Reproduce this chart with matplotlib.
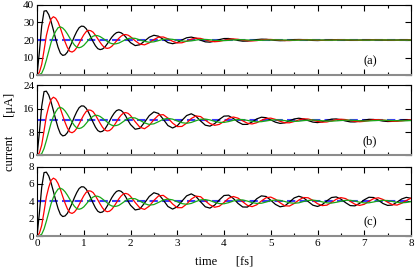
import numpy as np
import matplotlib
matplotlib.use("Agg")
import matplotlib.pyplot as plt
from matplotlib.ticker import MultipleLocator

plt.rcParams.update({
    "font.family": "Liberation Serif",
    "font.size": 8,
})

# time grid [fs], one sample every 0.1 fs, plus half steps over the first 2 fs
t = np.linspace(0, 8, 81)
t_half = np.linspace(0.05, 1.95, 20)

# panel (a)
black_a = [0, 28.0, 36.75, 30.65, 20.5, 12.45, 11.55, 15.89, 22.06, 27.01,
           27.76, 24.37, 19.02, 15.06, 14.85, 17.72, 21.62, 24.18, 24.1, 21.66,
           18.48, 16.8, 17.29, 19.38, 21.57, 22.7, 22.15, 20.38, 18.53, 17.89,
           18.56, 20.02, 21.27, 21.66, 21.02, 19.88, 18.94, 18.78, 19.36, 20.22,
           20.83, 20.85, 20.35, 19.74, 19.34, 19.4, 19.77, 20.23, 20.47, 20.39,
           20.08, 19.78, 19.62, 19.68, 19.94, 20.23, 20.29, 20.2, 19.99, 19.78,
           19.7, 19.84, 20.02, 20.17, 20.2, 20.1, 19.94, 19.83, 19.81, 19.92,
           20.06, 20.14, 20.13, 20.04, 19.92, 19.86, 19.87, 19.97, 20.08, 20.14,
           20.1]
black_a_half = [13.0, 36.5, 34.55, 25.7, 15.85, 11.2, 13.09, 18.82, 24.85, 27.93,
                26.51, 21.72, 16.68, 14.51, 15.93, 19.65, 23.13, 24.49, 23.13, 19.93]
red_a = [0, 6.0, 22.5, 32.0, 32.5, 26.8, 18.9, 13.57, 13.92, 18.08,
         22.96, 25.52, 24.45, 20.69, 16.85, 15.2, 16.42, 19.45, 22.2, 23.11,
         21.88, 19.55, 17.65, 17.23, 18.38, 20.25, 21.64, 21.73, 20.69, 19.27,
         18.34, 18.41, 19.32, 20.49, 21.09, 20.91, 20.07, 19.36, 19.0, 19.23,
         19.83, 20.42, 20.61, 20.39, 19.94, 19.58, 19.47, 19.67, 20.02, 20.29,
         20.31, 20.14, 19.89, 19.69, 19.67, 19.84, 20.07, 20.22, 20.2, 20.05,
         19.86, 19.8, 19.82, 19.95, 20.09, 20.17, 20.11, 20.0, 19.88, 19.83,
         19.88, 20.0, 20.09, 20.12, 20.06, 19.97, 19.89, 19.87, 19.93, 20.03,
         20.1]
red_a_half = [1.5, 14.0, 28.0, 33.3, 30.25, 22.75, 15.68, 13.11, 15.64, 20.62,
              24.74, 25.29, 22.71, 18.65, 15.6, 15.49, 17.85, 20.99, 22.99, 22.73]
green_a = [0, 1.0, 8.5, 18.5, 25.0, 27.5, 25.45, 21.19, 17.16, 15.58,
           16.95, 19.95, 22.18, 22.45, 21.08, 19.28, 17.92, 17.89, 18.92, 20.31,
           21.09, 20.93, 20.06, 19.2, 18.72, 18.96, 19.66, 20.36, 20.61, 20.38,
           19.87, 19.42, 19.28, 19.51, 19.94, 20.28, 20.31, 20.12, 19.83, 19.64,
           19.64, 19.81, 20.03, 20.17, 20.15, 20.02, 19.87, 19.8, 19.83, 19.94,
           20.05, 20.09, 20.06, 19.98, 19.9, 19.86, 19.91, 19.99, 20.05, 20.07,
           20.03, 19.97, 19.93, 19.92, 19.95, 20.0, 20.04, 20.04, 20.01, 19.96,
           19.93, 19.95, 19.98, 20.01, 20.03, 20.02, 19.99, 19.96, 19.95, 19.96,
           19.99]
green_a_half = [0.25, 4.0, 13.5, 22.25, 27.0, 26.85, 23.48, 19.07, 15.88, 16.01,
                18.42, 21.22, 22.62, 21.94, 20.2, 18.43, 17.74, 18.25, 19.61, 20.81]

# panel (b)
black_b = [0, 16.8, 22.05, 18.39, 12.3, 7.47, 6.93, 9.51, 13.26, 16.38,
           16.95, 14.85, 11.34, 8.55, 8.28, 10.29, 13.26, 15.39, 15.42, 13.44,
           10.62, 9.0, 9.33, 11.37, 13.65, 14.94, 14.41, 12.44, 10.27, 9.43,
           10.2, 12.03, 13.69, 14.3, 13.45, 11.82, 10.39, 10.06, 10.94, 12.37,
           13.5, 13.58, 12.69, 11.48, 10.65, 10.67, 11.48, 12.54, 13.12, 12.96,
           12.2, 11.42, 11.0, 11.2, 11.86, 12.52, 12.78, 12.53, 11.96, 11.45,
           11.28, 11.54, 12.06, 12.46, 12.53, 12.26, 11.84, 11.52, 11.51, 11.78,
           12.15, 12.39, 12.35, 12.1, 11.8, 11.65, 11.7, 11.93, 12.16, 12.28,
           12.2]
black_b_half = [7.8, 21.9, 20.73, 15.42, 9.51, 6.72, 7.83, 11.28, 15.0, 17.01,
                16.2, 13.14, 9.72, 8.1, 9.0, 11.73, 14.49, 15.69, 14.67, 11.94]
red_b = [0, 3.6, 13.5, 19.2, 19.5, 16.08, 11.34, 8.1, 8.28, 10.8,
         13.89, 15.6, 15.0, 12.48, 9.72, 8.4, 9.21, 11.55, 13.83, 14.7,
         13.71, 11.58, 9.69, 9.18, 10.29, 12.27, 13.84, 14.0, 12.81, 11.12,
         9.91, 9.96, 11.1, 12.68, 13.56, 13.34, 12.1, 10.99, 10.34, 10.67,
         11.68, 12.78, 13.19, 12.78, 11.88, 11.07, 10.81, 11.24, 12.05, 12.71,
         12.81, 12.37, 11.72, 11.22, 11.21, 11.64, 12.19, 12.57, 12.5, 12.12,
         11.66, 11.42, 11.5, 11.86, 12.24, 12.43, 12.31, 11.99, 11.68, 11.57,
         11.7, 12.0, 12.24, 12.31, 12.16, 11.92, 11.74, 11.71, 11.86, 12.06,
         12.21]
red_b_half = [0.9, 8.4, 16.8, 19.98, 18.15, 13.65, 9.39, 7.8, 9.3, 12.39,
              15.06, 15.51, 13.86, 11.04, 8.76, 8.55, 10.29, 12.81, 14.55, 14.43]
green_b = [0, 0.6, 5.1, 11.1, 15.0, 16.5, 15.27, 12.72, 10.26, 9.24,
           10.05, 11.97, 13.47, 13.71, 12.78, 11.46, 10.38, 10.29, 11.1, 12.27,
           12.99, 12.87, 12.06, 11.19, 10.65, 10.86, 11.61, 12.41, 12.72, 12.46,
           11.83, 11.25, 11.04, 11.33, 11.92, 12.41, 12.48, 12.2, 11.71, 11.37,
           11.34, 11.64, 12.06, 12.34, 12.31, 12.04, 11.71, 11.54, 11.59, 11.84,
           12.12, 12.24, 12.16, 11.96, 11.76, 11.68, 11.76, 11.96, 12.11, 12.16,
           12.07, 11.92, 11.8, 11.77, 11.87, 12.0, 12.11, 12.11, 12.02, 11.9,
           11.83, 11.85, 11.94, 12.03, 12.08, 12.06, 11.99, 11.91, 11.89, 11.91,
           11.98]
green_b_half = [0.15, 2.4, 8.1, 13.35, 16.2, 16.11, 14.1, 11.43, 9.45, 9.48,
                10.98, 12.81, 13.8, 13.38, 12.15, 10.8, 10.2, 10.56, 11.67, 12.72]

# panel (c)
black_c = [0, 5.6, 7.35, 6.13, 4.1, 2.49, 2.31, 3.17, 4.42, 5.46,
           5.65, 4.95, 3.78, 2.85, 2.76, 3.43, 4.42, 5.13, 5.14, 4.48,
           3.54, 3.0, 3.11, 3.79, 4.55, 4.98, 4.81, 4.15, 3.4, 3.1,
           3.36, 4.01, 4.62, 4.85, 4.55, 3.93, 3.36, 3.21, 3.56, 4.16,
           4.66, 4.71, 4.32, 3.75, 3.34, 3.33, 3.73, 4.29, 4.62, 4.55,
           4.12, 3.64, 3.36, 3.47, 3.9, 4.38, 4.58, 4.4, 3.97, 3.55,
           3.4, 3.61, 4.05, 4.43, 4.5, 4.25, 3.84, 3.5, 3.47, 3.76,
           4.17, 4.46, 4.43, 4.13, 3.74, 3.52, 3.57, 3.9, 4.26, 4.45,
           4.34]
black_c_half = [2.6, 7.3, 6.91, 5.14, 3.17, 2.24, 2.61, 3.76, 5.0, 5.67,
                5.4, 4.38, 3.24, 2.7, 3.0, 3.91, 4.83, 5.23, 4.89, 3.98]
red_c = [0, 1.2, 4.5, 6.4, 6.5, 5.36, 3.78, 2.7, 2.76, 3.6,
         4.63, 5.2, 5.0, 4.16, 3.24, 2.8, 3.07, 3.85, 4.61, 4.9,
         4.57, 3.86, 3.23, 3.06, 3.43, 4.09, 4.62, 4.68, 4.28, 3.69,
         3.26, 3.26, 3.67, 4.25, 4.59, 4.52, 4.04, 3.59, 3.31, 3.43,
         3.86, 4.35, 4.55, 4.37, 3.94, 3.53, 3.38, 3.59, 4.03, 4.41,
         4.48, 4.23, 3.82, 3.48, 3.45, 3.74, 4.14, 4.43, 4.4, 4.1,
         3.72, 3.5, 3.55, 3.87, 4.23, 4.42, 4.31, 3.99, 3.66, 3.52,
         3.65, 4.0, 4.3, 4.4, 4.21, 3.89, 3.62, 3.56, 3.77, 4.09,
         4.35]
red_c_half = [0.3, 2.8, 5.6, 6.66, 6.05, 4.55, 3.13, 2.6, 3.1, 4.13,
              5.02, 5.17, 4.62, 3.68, 2.92, 2.85, 3.43, 4.27, 4.85, 4.81]
green_c = [0, 0.2, 1.7, 3.7, 5.0, 5.5, 5.09, 4.24, 3.42, 3.08,
           3.35, 3.99, 4.49, 4.57, 4.26, 3.82, 3.46, 3.43, 3.7, 4.09,
           4.33, 4.29, 4.02, 3.73, 3.55, 3.62, 3.87, 4.14, 4.25, 4.16,
           3.94, 3.73, 3.65, 3.75, 3.97, 4.16, 4.19, 4.08, 3.88, 3.73,
           3.71, 3.84, 4.03, 4.16, 4.15, 4.02, 3.85, 3.75, 3.77, 3.91,
           4.07, 4.15, 4.1, 3.97, 3.83, 3.77, 3.82, 3.97, 4.09, 4.13,
           4.06, 3.93, 3.82, 3.79, 3.88, 4.0, 4.11, 4.11, 4.02, 3.89,
           3.81, 3.82, 3.92, 4.04, 4.11, 4.08, 3.98, 3.87, 3.82, 3.86,
           3.96]
green_c_half = [0.05, 0.8, 2.7, 4.45, 5.4, 5.37, 4.7, 3.81, 3.15, 3.16,
                3.66, 4.27, 4.6, 4.46, 4.05, 3.6, 3.4, 3.52, 3.89, 4.24]

# stationary values (blue dashed)
steady = [20, 12, 4]
ymax = [40, 24, 8]
ystep = [10, 8, 2]
labels = ["(a)", "(b)", "(c)"]
panels = [[(black_a, black_a_half), (red_a, red_a_half), (green_a, green_a_half)],
          [(black_b, black_b_half), (red_b, red_b_half), (green_b, green_b_half)],
          [(black_c, black_c_half), (red_c, red_c_half), (green_c, green_c_half)]]
colors = ["black", "red", "#18a818"]

t_all = np.concatenate([t, t_half])
order = np.argsort(t_all)

fig = plt.figure(figsize=(4.15, 2.7), dpi=100)
boxes = [[0.0892, 0.7222, 0.9012, 0.2593],
         [0.0892, 0.4241, 0.9012, 0.2593],
         [0.0892, 0.1259, 0.9012, 0.2574]]

for i in range(3):
    ax = fig.add_axes(boxes[i])
    ax.plot([0, 8], [steady[i], steady[i]], color="#3a3aff", lw=1.5, dashes=(4, 2))
    for (vals, half), c in zip(panels[i], colors):
        y_all = np.concatenate([vals, half])
        ax.plot(t_all[order], y_all[order], color=c, lw=0.9)
    ax.set_xlim(0, 8)
    ax.set_ylim(0, ymax[i])
    ax.yaxis.set_major_locator(MultipleLocator(ystep[i]))
    ax.xaxis.set_major_locator(MultipleLocator(1))
    ax.xaxis.set_minor_locator(MultipleLocator(0.5))
    ax.tick_params(which="both", direction="in", top=True, right=True, width=0.8, pad=2)
    ax.tick_params(which="major", length=4)
    ax.tick_params(which="minor", length=2.5)
    if i < 2:
        ax.tick_params(labelbottom=False)
    for s in ["top", "left", "right"]:
        ax.spines[s].set_linewidth(0.8)
    ax.spines["bottom"].set_color("#8c8c8c")
    ax.spines["bottom"].set_linewidth(1.5)
    ax.text(0.89, 0.2, labels[i], transform=ax.transAxes, fontsize=9,
            ha="center", va="center")

fig.text(224 / 415, 1 - 262 / 270, "time      [fs]", fontsize=9, ha="center", va="center")
fig.text(10 / 415, 0.51, "current      [\u03bcA]", fontsize=9, rotation=90,
         ha="center", va="center")

fig.savefig("out.png", dpi=100)
